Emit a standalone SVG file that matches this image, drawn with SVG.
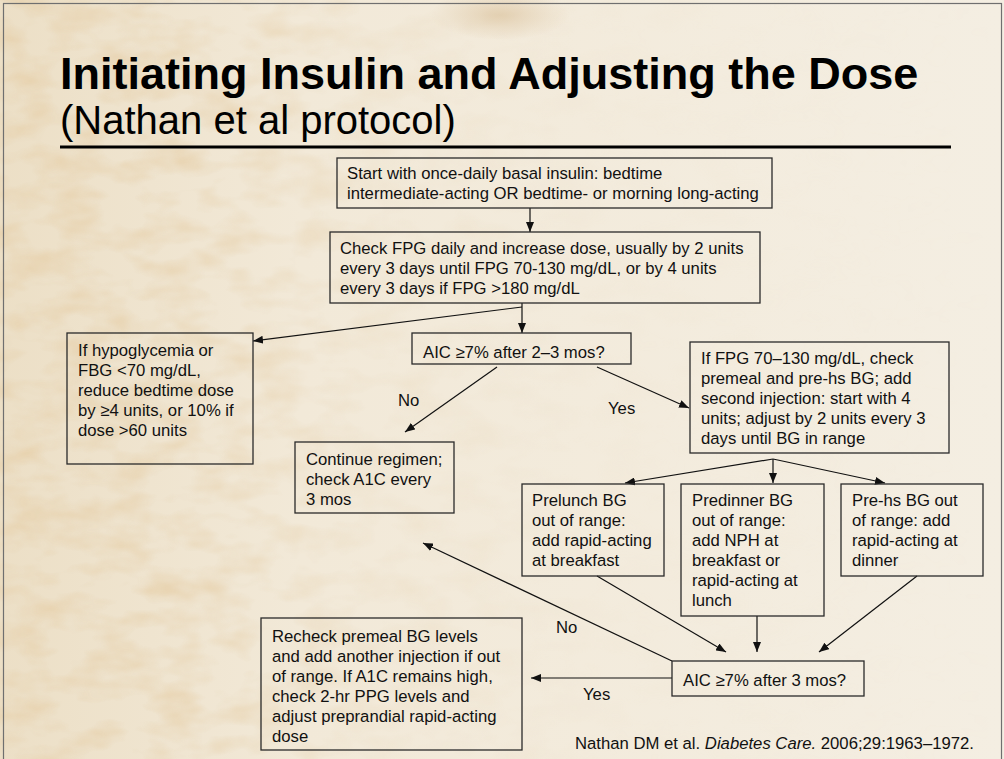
<svg xmlns="http://www.w3.org/2000/svg" width="1004" height="759" viewBox="0 0 1004 759">
<defs>
  <filter id="mottle" x="0" y="0" width="100%" height="100%">
    <feTurbulence type="fractalNoise" baseFrequency="0.02 0.04" numOctaves="3" seed="7"/>
    <feColorMatrix type="matrix" values="0 0 0 0 0.80  0 0 0 0 0.64  0 0 0 0 0.42  0 0 0 2.0 -0.82"/>
  </filter>
  <linearGradient id="fadeL" x1="0" y1="0" x2="1" y2="0">
    <stop offset="0" stop-color="#fff" stop-opacity="1"/>
    <stop offset="0.18" stop-color="#fff" stop-opacity="0.85"/>
    <stop offset="0.38" stop-color="#fff" stop-opacity="0.25"/>
    <stop offset="0.6" stop-color="#fff" stop-opacity="0.05"/>
    <stop offset="1" stop-color="#fff" stop-opacity="0"/>
  </linearGradient>
  <mask id="leftMask"><rect width="1004" height="759" fill="url(#fadeL)"/></mask>
  <linearGradient id="baseG" x1="0" y1="0" x2="1" y2="0">
    <stop offset="0" stop-color="#ecdfc6"/>
    <stop offset="0.3" stop-color="#f2e9d8"/>
    <stop offset="1" stop-color="#f4eee2"/>
  </linearGradient>
  <radialGradient id="topSpot" cx="0.5" cy="0.5" r="0.5">
    <stop offset="0" stop-color="#d9bf98" stop-opacity="0.6"/>
    <stop offset="1" stop-color="#d9bf98" stop-opacity="0"/>
  </radialGradient>
  <marker id="ah" viewBox="0 0 10 8" refX="10" refY="4" markerWidth="10" markerHeight="8" markerUnits="userSpaceOnUse" orient="auto">
    <path d="M0,0 L10,4 L0,8 z" fill="#111"/>
  </marker>
  <style>
    .bx{fill:none;stroke:#2a2a2a;stroke-width:1.3}
    .t{font-family:"Liberation Sans",Arial,sans-serif;font-size:16.7px;fill:#111}
    .c{fill:none;stroke:#111;stroke-width:1.2}
    .a{fill:none;stroke:#111;stroke-width:1.2;marker-end:url(#ah)}
  </style>
</defs>

<!-- background -->
<rect width="1004" height="759" fill="url(#baseG)"/>
<rect width="1004" height="759" filter="url(#mottle)" mask="url(#leftMask)"/>
<ellipse cx="500" cy="15" rx="70" ry="25" fill="url(#topSpot)"/>
<rect x="3.5" y="3.5" width="998" height="800" fill="none" stroke="#6f6f6f" stroke-width="1.2"/>

<!-- title -->
<g id="title">
  <text x="60" y="89" font-family="'Liberation Sans',Arial,sans-serif" font-size="45" font-weight="bold" fill="#000">Initiating Insulin and Adjusting the Dose</text>
  <text x="60" y="134" font-family="'Liberation Sans',Arial,sans-serif" font-size="40" fill="#000">(Nathan et al protocol)</text>
  <line x1="60" y1="147" x2="951" y2="147" stroke="#000" stroke-width="3.2"/>
</g>

<!-- connectors -->
<g id="connectors">
  <line class="a" x1="530" y1="208" x2="530" y2="232"/>
  <line class="c" x1="522" y1="303" x2="522" y2="307"/>
  <line class="a" x1="522" y1="307" x2="522" y2="333"/>
  <line class="a" x1="522" y1="307" x2="253" y2="341"/>
  <line class="a" x1="497" y1="367" x2="405" y2="432"/>
  <line class="a" x1="597" y1="367" x2="689" y2="408"/>
  <line class="a" x1="773" y1="459" x2="625" y2="483"/>
  <line class="a" x1="773" y1="459" x2="773" y2="483"/>
  <line class="a" x1="773" y1="459" x2="885" y2="483"/>
  <line class="a" x1="597" y1="576" x2="726" y2="652"/>
  <line class="a" x1="757" y1="616" x2="757" y2="652"/>
  <line class="a" x1="917" y1="576" x2="819" y2="652"/>
  <line class="a" x1="672" y1="678" x2="531" y2="678"/>
  <line class="a" x1="672" y1="661" x2="423" y2="543"/>
  <text class="t" x="398" y="406">No</text>
  <text class="t" x="608" y="414">Yes</text>
  <text class="t" x="556" y="633">No</text>
  <text class="t" x="583" y="700">Yes</text>
</g>

<g id="start">
  <rect class="bx" x="337" y="158" width="435" height="50"/>
  <text class="t" x="347" y="179">Start with once-daily basal insulin: bedtime</text>
  <text class="t" x="347" y="199">intermediate-acting OR bedtime- or morning long-acting</text>
</g>

<g id="check">
  <rect class="bx" x="330" y="232" width="430" height="71"/>
  <text class="t" x="340" y="254">Check FPG daily and increase dose, usually by 2 units</text>
  <text class="t" x="340" y="274">every 3 days until FPG 70-130 mg/dL, or by 4 units</text>
  <text class="t" x="340" y="294">every 3 days if FPG &gt;180 mg/dL</text>
</g>

<g id="hypo">
  <rect class="bx" x="67" y="333" width="186" height="131"/>
  <text class="t" x="78" y="356">If hypoglycemia or</text>
  <text class="t" x="78" y="376">FBG &lt;70 mg/dL,</text>
  <text class="t" x="78" y="396">reduce bedtime dose</text>
  <text class="t" x="78" y="416">by ≥4 units, or 10% if</text>
  <text class="t" x="78" y="436">dose &gt;60 units</text>
</g>

<g id="aic1">
  <rect class="bx" x="412" y="333" width="219" height="31"/>
  <text class="t" x="423" y="358">AIC ≥7% after 2–3 mos?</text>
</g>

<g id="continue">
  <rect class="bx" x="295" y="442" width="159" height="71"/>
  <text class="t" x="306" y="465">Continue regimen;</text>
  <text class="t" x="306" y="485">check A1C every</text>
  <text class="t" x="306" y="505">3 mos</text>
</g>

<g id="fpg">
  <rect class="bx" x="690" y="342" width="259" height="111"/>
  <text class="t" x="701" y="364">If FPG 70–130 mg/dL, check</text>
  <text class="t" x="701" y="384">premeal and pre-hs BG; add</text>
  <text class="t" x="701" y="404">second injection: start with 4</text>
  <text class="t" x="701" y="424">units; adjust by 2 units every 3</text>
  <text class="t" x="701" y="444">days until BG in range</text>
</g>

<g id="prelunch">
  <rect class="bx" x="522" y="484" width="142" height="92"/>
  <text class="t" x="532" y="506">Prelunch BG</text>
  <text class="t" x="532" y="526">out of range:</text>
  <text class="t" x="532" y="546">add rapid-acting</text>
  <text class="t" x="532" y="566">at breakfast</text>
</g>

<g id="predinner">
  <rect class="bx" x="681" y="484" width="143" height="132"/>
  <text class="t" x="692" y="506">Predinner BG</text>
  <text class="t" x="692" y="526">out of range:</text>
  <text class="t" x="692" y="546">add NPH at</text>
  <text class="t" x="692" y="566">breakfast or</text>
  <text class="t" x="692" y="586">rapid-acting at</text>
  <text class="t" x="692" y="606">lunch</text>
</g>

<g id="prehs">
  <rect class="bx" x="841" y="484" width="142" height="92"/>
  <text class="t" x="852" y="506">Pre-hs BG out</text>
  <text class="t" x="852" y="526">of range: add</text>
  <text class="t" x="852" y="546">rapid-acting at</text>
  <text class="t" x="852" y="566">dinner</text>
</g>

<g id="aic2">
  <rect class="bx" x="672" y="661" width="192" height="35"/>
  <text class="t" x="683" y="686">AIC ≥7% after 3 mos?</text>
</g>

<g id="recheck">
  <rect class="bx" x="261" y="618" width="261" height="132"/>
  <text class="t" x="272" y="642">Recheck premeal BG levels</text>
  <text class="t" x="272" y="662">and add another injection if out</text>
  <text class="t" x="272" y="682">of range. If A1C remains high,</text>
  <text class="t" x="272" y="702">check 2-hr PPG levels and</text>
  <text class="t" x="272" y="722">adjust preprandial rapid-acting</text>
  <text class="t" x="272" y="742">dose</text>
</g>

<g id="citation">
  <text class="t" x="575" y="749">Nathan DM et al. <tspan font-style="italic">Diabetes Care.</tspan> 2006;29:1963–1972.</text>
</g>
</svg>
